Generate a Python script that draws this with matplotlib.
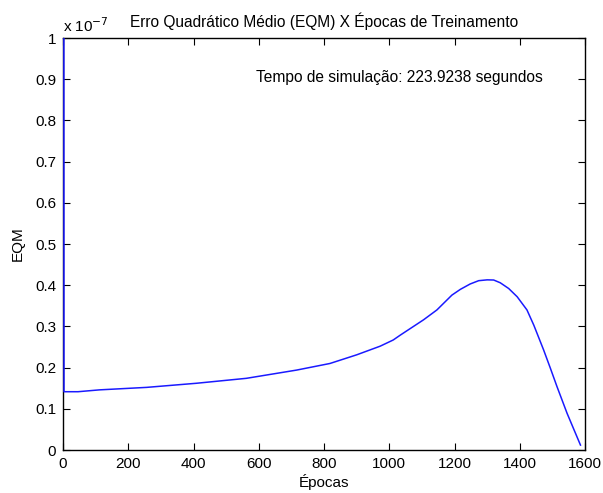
import numpy as np
import matplotlib.pyplot as plt
from matplotlib.ticker import FuncFormatter

plt.rcParams['font.family'] = ['Liberation Sans', 'DejaVu Sans']

# EQM per epoch (units of 1e-7)
epocas = [2, 3, 46, 112, 256, 409, 562, 716, 818, 900, 972, 1012, 1034, 1105,
          1146, 1192, 1218, 1248, 1274, 1300, 1320, 1340, 1366, 1392, 1422,
          1443, 1473, 1494, 1514, 1545, 1586]
eqm = [3.0, 0.1415, 0.1415, 0.146, 0.152, 0.162, 0.174, 0.194, 0.210, 0.231,
       0.252, 0.267, 0.279, 0.316, 0.340, 0.376, 0.390, 0.403, 0.411, 0.413,
       0.4126, 0.406, 0.392, 0.372, 0.340, 0.303, 0.243, 0.198, 0.154, 0.089,
       0.012]
tempo_sim = 223.9238

eqm = np.array(eqm) * 1e-7

fig = plt.figure(figsize=(6.03, 4.93), dpi=100)
ax = fig.add_axes([0.1045, 0.0872, 0.8657, 0.8357])

ax.plot(epocas, eqm, color='#1a1aff', linewidth=1.1, zorder=3)

ax.set_xlim(0, 1600)
ax.set_ylim(0, 1e-7)
ax.set_xticks(np.arange(0, 1601, 200))
ax.set_yticks(np.arange(0, 11) * 1e-8)
ax.yaxis.set_major_formatter(FuncFormatter(lambda v, p: f"{v * 1e7:g}"))
ax.tick_params(direction='in', length=5, width=0.8, top=True, right=True,
               labelsize=11, pad=5)
for s in ax.spines.values():
    s.set_linewidth(1.0)

ax.text(0.0, 1.008, r'x 10$^{-7}$', transform=ax.transAxes, fontsize=11,
        ha='left', va='bottom')
ax.set_title('Erro Quadrático Médio (EQM) X Épocas de Treinamento',
             fontsize=11.2, pad=8)
ax.set_xlabel('Épocas', fontsize=11, labelpad=2)
ax.set_ylabel('EQM', fontsize=11, labelpad=7)

ax.text(592, 0.905e-7, f'Tempo de simulação: {tempo_sim} segundos',
        fontsize=11.2, ha='left', va='center')

fig.savefig('out.png', dpi=100)
